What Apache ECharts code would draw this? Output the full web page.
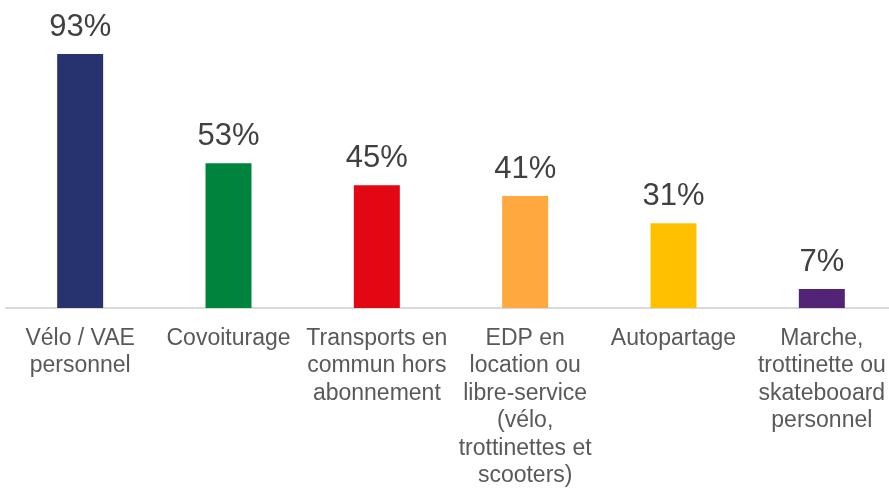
<!DOCTYPE html>
<html>
<head>
<meta charset="utf-8">
<script src="https://cdn.jsdelivr.net/npm/echarts@6/dist/echarts.min.js"></script>
<style>html,body{margin:0;padding:0;background:#fff}#c{width:889px;height:488px}</style>
</head>
<body>
<div id="c"></div>
<script>
const categories = [
  "Vélo / VAE\npersonnel",
  "Covoiturage",
  "Transports en\ncommun hors\nabonnement",
  "EDP en\nlocation ou\nlibre-service\n(vélo,\ntrottinettes et\nscooters)",
  "Autopartage",
  "Marche,\ntrottinette ou\nskatebooard\npersonnel"
];
const values = [93, 53, 45, 41, 31, 7];
const colors = ["#27336F", "#00843D", "#E30613", "#FFA83F", "#FFC000", "#532476"];

const chart = echarts.init(document.getElementById('c'), null, {renderer: 'canvas'});
chart.setOption({
  animation: false,
  grid: {left: 6, width: 890, top: 35, height: 273, containLabel: false, outerBoundsMode: 'none'},
  xAxis: {
    type: 'category',
    data: categories,
    axisLine: {show: true, lineStyle: {color: '#D9D9D9', width: 2}},
    axisTick: {show: false},
    axisLabel: {
      interval: 0,
      margin: 17,
      color: '#595959',
      fontFamily: 'Liberation Sans, Arial, sans-serif',
      fontSize: 23,
      lineHeight: 27.4,
      align: 'center'
    }
  },
  yAxis: {
    type: 'value', min: 0, max: 100, show: false,
    splitLine: {show: false}
  },
  series: [{
    type: 'bar',
    data: values.map((v, i) => ({value: v, itemStyle: {color: colors[i]}})),
    barWidth: '31%',
    label: {
      show: true,
      position: 'top',
      distance: 11,
      formatter: '{c}%',
      color: '#404040',
      fontFamily: 'Liberation Sans, Arial, sans-serif',
      fontSize: 31
    }
  }]
});
</script>
</body>
</html>
